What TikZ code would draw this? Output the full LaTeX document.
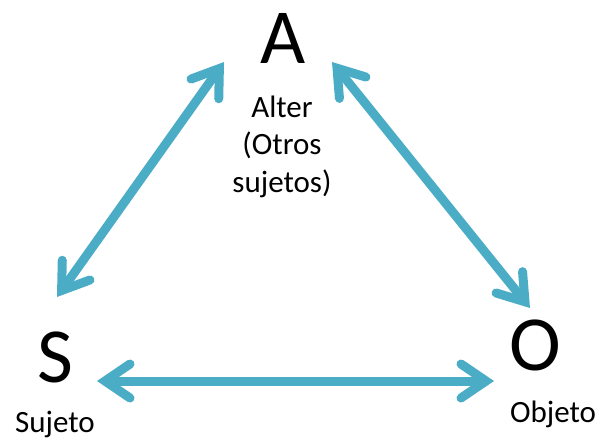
\documentclass[tikz,border=0pt]{standalone}
\usepackage{fontspec}
\setmainfont{Carlito}
\usetikzlibrary{arrows.meta}
\definecolor{arrowblue}{HTML}{4BACC6}

\begin{document}
\begin{tikzpicture}[x=1pt, y=-1pt,
  letter/.style={inner sep=0pt, font=\fontsize{78}{80}\selectfont},
  label/.style={inner sep=0pt, align=center, font=\fontsize{31}{37.5}\selectfont},
  barb/.tip={Straight Barb[length=25pt, width=34pt, line cap=round, line join=miter]},
  link/.style={draw=arrowblue, line width=9pt, {barb}-{barb}}]
  \useasboundingbox (0,0) rectangle (602,445);

  \node[letter, anchor=base] (A) at (283,63)  {A};
  \node[letter, anchor=base] (S) at (55,382)  {S};
  \node[letter, anchor=base] (O) at (535,370) {O};

  % last line of the label sits on the given baseline
  \node[label, anchor=base] (alter)  at (282,192) {Alter\\(Otros\\sujetos)};
  \node[label, anchor=base] (sujeto) at (55,432)  {Sujeto};
  \node[label, anchor=base] (objeto) at (553,422) {Objeto};

  \coordinate (A-left)  at (224,62);
  \coordinate (A-right) at (332,62);
  \coordinate (S-up)    at (57,297);
  \coordinate (S-right) at (97,381);
  \coordinate (O-up)    at (530,308);
  \coordinate (O-left)  at (494,381);

  \draw[link] (A-left)  -- (S-up);
  \draw[link] (A-right) -- (O-up);
  \draw[link] (S-right) -- (O-left);
\end{tikzpicture}
\end{document}
